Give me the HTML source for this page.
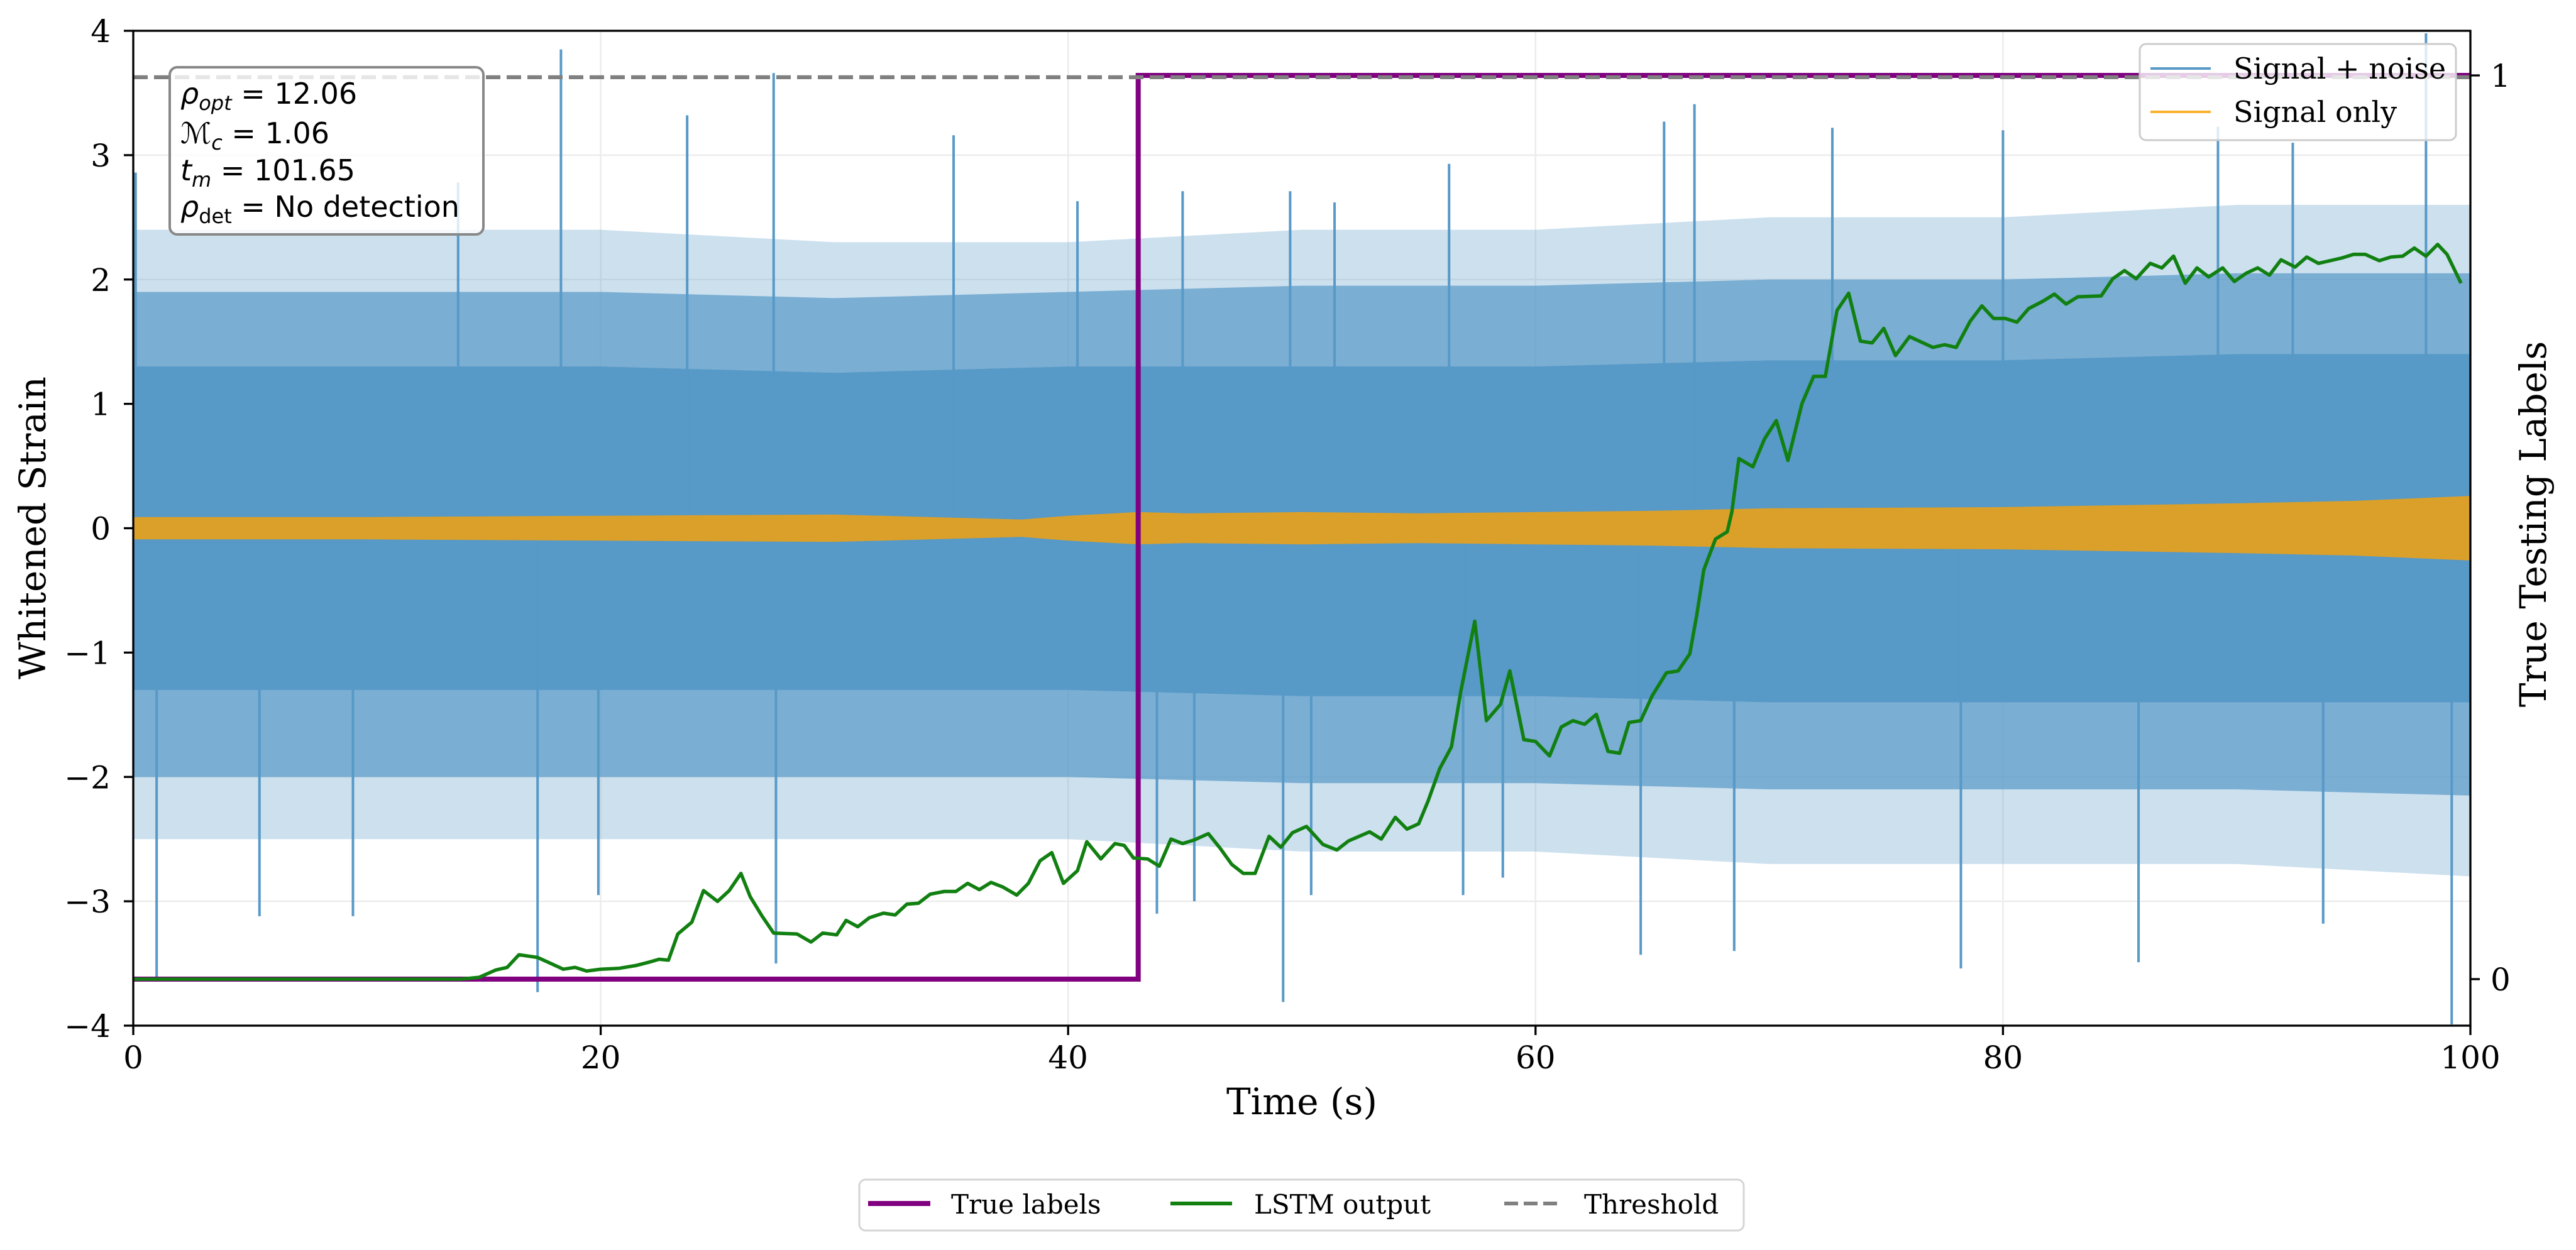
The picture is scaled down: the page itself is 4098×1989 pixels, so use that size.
<!DOCTYPE html>
<html><head><meta charset="utf-8"><style>
html,body{margin:0;padding:0;background:#fff;}
svg{display:block;}
text{font-family:"DejaVu Serif","Liberation Serif",serif;fill:#000;}
.sans{font-family:"DejaVu Sans","Liberation Sans",sans-serif;}
</style></head><body>
<svg id="chart" width="4098" height="1989" viewBox="0 0 4098 1989" xmlns="http://www.w3.org/2000/svg">
<rect x="0" y="0" width="4098" height="1989" fill="#fff"/>
<g id="grid"></g>
<g id="noise"></g>
<g id="signal"></g>
<g id="labels"></g>
<g id="lstm"></g>
<g id="thresh"></g>
<g id="axes"></g>

<g>
<rect x="270" y="107" width="499" height="266" rx="12" fill="#fff" fill-opacity="0.8" stroke="#888" stroke-width="4"/>
<text class="sans" x="287" y="165" font-size="46"><tspan font-style="italic">ρ</tspan><tspan font-style="italic" font-size="32" dy="10">opt</tspan><tspan dy="-10"> = 12.06</tspan></text>
<text class="sans" x="287" y="228" font-size="46"><tspan font-style="italic">ℳ</tspan><tspan font-style="italic" font-size="32" dy="10">c</tspan><tspan dy="-10"> = 1.06</tspan></text>
<text class="sans" x="287" y="287" font-size="46"><tspan font-style="italic">t</tspan><tspan font-style="italic" font-size="32" dy="10">m</tspan><tspan dy="-10"> = 101.65</tspan></text>
<text class="sans" x="287" y="345" font-size="46"><tspan font-style="italic">ρ</tspan><tspan font-size="32" dy="10">det</tspan><tspan dy="-10"> = No detection</tspan></text>
</g>

<g>
<rect x="3404" y="70" width="503" height="153" rx="10" fill="#fff" fill-opacity="0.8" stroke="#ccc" stroke-width="3"/>
<line x1="3421" y1="109" x2="3517" y2="109" stroke="#5799c7" stroke-width="4"/>
<text x="3553" y="125" font-size="46">Signal + noise</text>
<line x1="3421" y1="178" x2="3517" y2="178" stroke="#fbb12f" stroke-width="4"/>
<text x="3553" y="194" font-size="46">Signal only</text>
</g>

<g>
<rect x="1367" y="1877" width="1407" height="81" rx="10" fill="#fff" stroke="#d5d5d5" stroke-width="3"/>
<line x1="1381" y1="1915" x2="1480" y2="1915" stroke="#800080" stroke-width="8"/>
<text x="1513" y="1931" font-size="42">True labels</text>
<line x1="1862" y1="1915" x2="1960" y2="1915" stroke="#118011" stroke-width="6"/>
<text x="1995" y="1931" font-size="42">LSTM output</text>
<line x1="2393" y1="1915" x2="2486" y2="1915" stroke="#808080" stroke-width="6" stroke-dasharray="22 9"/>
<text x="2520" y="1931" font-size="42">Threshold</text>
</g>

<text x="2071" y="1773" font-size="58" text-anchor="middle">Time (s)</text>
<text x="0" y="0" font-size="58" text-anchor="middle" transform="translate(72,840) rotate(-90)">Whitened Strain</text>
<text x="0" y="0" font-size="58" text-anchor="middle" transform="translate(4050,834) rotate(-90)">True Testing Labels</text>
</svg>
<script>
const xTicks = [0, 20, 40, 60, 80, 100];
const yTicks = [-4, -3, -2, -1, 0, 1, 2, 3, 4];
const yTickLabels = ["\u22124", "\u22123", "\u22122", "\u22121", "0", "1", "2", "3", "4"];
const rTicks = [0, 1];
// noise envelope
const noiseT = [0, 10, 20, 30, 40, 50, 60, 70, 80, 90, 100];
const coreUp = [1.3, 1.3, 1.3, 1.25, 1.3, 1.3, 1.3, 1.35, 1.35, 1.4, 1.4];
const coreLo = [-1.3, -1.3, -1.3, -1.3, -1.3, -1.35, -1.35, -1.4, -1.4, -1.4, -1.4];
const midUp = [1.9, 1.9, 1.9, 1.85, 1.9, 1.95, 1.95, 2.0, 2.0, 2.05, 2.05];
const midLo = [-2.0, -2.0, -2.0, -2.0, -2.0, -2.05, -2.05, -2.1, -2.1, -2.1, -2.15];
const fringeUp = [2.4, 2.4, 2.4, 2.3, 2.3, 2.4, 2.4, 2.5, 2.5, 2.6, 2.6];
const fringeLo = [-2.5, -2.5, -2.5, -2.5, -2.5, -2.6, -2.6, -2.7, -2.7, -2.7, -2.8];
const spikeT = [0.1, 1.0, 5.4, 9.4, 13.9, 17.3, 18.3, 19.9, 23.7, 27.4, 27.5, 35.1, 40.4, 43.8, 44.9, 45.4, 49.2, 49.5, 50.4, 51.4, 56.3, 56.9, 58.6, 64.5, 65.5, 66.8, 68.5, 72.7, 78.2, 80.0, 85.8, 89.2, 92.4, 93.7, 98.1, 99.2];
const spikeV = [2.86, -3.61, -3.12, -3.12, 2.78, -3.73, 3.85, -2.95, 3.32, 3.66, -3.5, 3.16, 2.63, -3.1, 2.71, -3.0, -3.81, 2.71, -2.95, 2.62, 2.93, -2.95, -2.81, -3.43, 3.27, 3.41, -3.4, 3.22, -3.54, 3.2, -3.49, 3.23, 3.1, -3.18, 3.98, -3.99];
// signal only envelope
const sigT = [0, 10, 20, 30, 38, 40, 43, 45, 50, 55, 60, 65, 70, 80, 90, 95, 100];
const sigAmp = [0.09, 0.09, 0.1, 0.11, 0.07, 0.1, 0.13, 0.12, 0.13, 0.12, 0.13, 0.14, 0.16, 0.17, 0.2, 0.22, 0.26];
// true labels
const labelT = [0, 43.0, 43.0, 100];
const labelV = [0, 0, 1, 1];
// LSTM output
const lstmT = [0,14.0,14.8,15.5,16.0,16.5,17.3,17.9,18.4,18.9,19.4,20.0,20.8,21.5,22.1,22.5,22.9,23.3,23.9,24.4,25.0,25.5,26.0,26.4,26.9,27.4,28.4,29.0,29.5,30.1,30.5,31.0,31.5,32.1,32.6,33.1,33.6,34.1,34.7,35.2,35.7,36.2,36.7,37.2,37.8,38.3,38.8,39.3,39.8,40.4,40.8,41.4,42.0,42.4,42.8,43.4,43.9,44.4,44.9,45.4,46.0,46.5,47.0,47.5,48.0,48.6,49.1,49.6,50.2,50.9,51.5,52.0,52.9,53.4,54.0,54.5,55.0,55.4,55.9,56.4,56.8,57.4,57.9,58.5,58.9,59.5,60.0,60.6,61.1,61.6,62.1,62.6,63.1,63.6,64.0,64.5,65.0,65.6,66.1,66.6,66.9,67.2,67.7,68.2,68.4,68.7,69.3,69.8,70.3,70.8,71.4,71.9,72.4,72.9,73.4,73.9,74.4,74.9,75.4,76.0,77.0,77.5,78.0,78.6,79.1,79.6,80.1,80.6,81.1,81.7,82.2,82.7,83.2,84.2,84.7,85.2,85.7,86.3,86.8,87.3,87.8,88.3,88.8,89.4,89.9,90.4,90.9,91.4,91.9,92.5,93.0,93.5,94.5,95.0,95.5,96.1,96.6,97.1,97.6,98.1,98.6,99.0,99.6];
const lstmV = [0,0,0.002,0.010,0.013,0.027,0.024,0.017,0.011,0.013,0.009,0.011,0.012,0.015,0.019,0.022,0.021,0.050,0.063,0.098,0.086,0.098,0.117,0.091,0.070,0.051,0.050,0.041,0.051,0.049,0.065,0.058,0.068,0.073,0.071,0.083,0.084,0.094,0.097,0.097,0.106,0.099,0.107,0.102,0.093,0.106,0.131,0.140,0.106,0.120,0.152,0.133,0.150,0.148,0.134,0.133,0.125,0.155,0.150,0.154,0.161,0.145,0.127,0.117,0.117,0.158,0.146,0.162,0.169,0.149,0.143,0.153,0.163,0.155,0.179,0.166,0.172,0.197,0.233,0.257,0.318,0.396,0.286,0.304,0.341,0.265,0.263,0.247,0.279,0.286,0.282,0.293,0.252,0.250,0.284,0.286,0.314,0.339,0.341,0.360,0.403,0.453,0.487,0.495,0.517,0.576,0.567,0.598,0.618,0.574,0.637,0.667,0.667,0.740,0.759,0.706,0.704,0.720,0.690,0.711,0.699,0.702,0.699,0.728,0.745,0.731,0.731,0.727,0.742,0.750,0.758,0.747,0.755,0.756,0.775,0.784,0.775,0.792,0.787,0.800,0.770,0.787,0.777,0.787,0.772,0.781,0.787,0.779,0.796,0.788,0.799,0.792,0.798,0.802,0.802,0.795,0.799,0.800,0.809,0.800,0.813,0.802,0.770];
const thresholdV = [0.998];

const X0 = 212, X1 = 3930, YT = 49, YB = 1632;
const R0 = 1558, R1 = 120;
function sx(t){ return X0 + (t - 0) / 100 * (X1 - X0); }
function sy(v){ return YB - (v + 4) / 8 * (YB - YT); }
function sr(p){ return R0 + p * (R1 - R0); }
const NS = "http://www.w3.org/2000/svg";
function mk(tag, attrs, parent){ const e = document.createElementNS(NS, tag); for (const k in attrs) e.setAttribute(k, attrs[k]); parent.appendChild(e); return e; }

const grid = document.getElementById('grid');
xTicks.forEach(t => { const l = mk('line', {x1: sx(t), x2: sx(t), y1: YT, y2: YB, stroke: '#ececec', 'stroke-width': 2.5}, grid);
  
   });
yTicks.forEach(v => { const l = mk('line', {x1: X0, x2: X1, y1: sy(v), y2: sy(v), stroke: '#ececec', 'stroke-width': 2.5}, grid);
  
   });

function band(up, lo, ts, fill, op, name, parent){
  let d = '';
  ts.forEach((t, i) => { d += (i ? 'L' : 'M') + sx(t).toFixed(1) + ' ' + sy(up[i]).toFixed(1); });
  for (let i = ts.length - 1; i >= 0; i--) d += 'L' + sx(ts[i]).toFixed(1) + ' ' + sy(lo[i]).toFixed(1);
  const p = mk('path', {d: d + 'Z', fill: fill, 'fill-opacity': op}, parent);
  
  
}
const noise = document.getElementById('noise');
band(fringeUp, fringeLo, noiseT, '#5799c7', 0.3, 'noise-fringe-band', noise);
band(midUp, midLo, noiseT, '#5799c7', 0.7, 'noise-mid-band', noise);
band(coreUp, coreLo, noiseT, '#5799c7', 1, 'noise-core-band', noise);
spikeT.forEach((t, i) => { const l = mk('line', {x1: sx(t), x2: sx(t), y1: sy(0), y2: sy(spikeV[i]), stroke: '#5799c7', 'stroke-width': 4}, noise);
  
   });

const signal = document.getElementById('signal');
band(sigAmp, sigAmp.map(a => -a), sigT, '#daa02a', 1, 'signal-only-band', signal);

function poly(ts, vs, f){ return ts.map((t, i) => sx(t).toFixed(1) + ',' + f(vs[i]).toFixed(1)).join(' '); }
const lab = mk('polyline', {points: poly(labelT, labelV, sr), fill: 'none', stroke: '#800080', 'stroke-width': 8}, document.getElementById('labels'));


const ls = mk('polyline', {points: poly(lstmT, lstmV, sr), fill: 'none', stroke: '#118011', 'stroke-width': 5.5, 'stroke-linejoin': 'round'}, document.getElementById('lstm'));


const th = mk('line', {x1: X0, x2: X1, y1: sr(thresholdV[0]), y2: sr(thresholdV[0]), stroke: '#808080', 'stroke-width': 6.25, 'stroke-dasharray': '23 10'}, document.getElementById('thresh'));



const axes = document.getElementById('axes');
const fr = mk('rect', {x: X0, y: YT, width: X1 - X0, height: YB - YT, fill: 'none', stroke: '#000', 'stroke-width': 3.3}, axes);


xTicks.forEach(t => {
  const l = mk('line', {x1: sx(t), x2: sx(t), y1: YB, y2: YB + 15, stroke: '#000', 'stroke-width': 3.3}, axes);
  
  
  const tx = mk('text', {x: sx(t), y: 1700, 'font-size': 50, 'text-anchor': 'middle'}, axes);
  tx.textContent = String(t);
  
  
});
yTicks.forEach((v, i) => {
  const l = mk('line', {x1: X0 - 15, x2: X0, y1: sy(v), y2: sy(v), stroke: '#000', 'stroke-width': 3.3}, axes);
  
  
  const tx = mk('text', {x: 176, y: sy(v) + 18, 'font-size': 50, 'text-anchor': 'end'}, axes);
  tx.textContent = yTickLabels[i];
  
  
});
rTicks.forEach(p => {
  const l = mk('line', {x1: X1, x2: X1 + 15, y1: sr(p), y2: sr(p), stroke: '#000', 'stroke-width': 3.3}, axes);
  
  
  const tx = mk('text', {x: 3962, y: sr(p) + 18, 'font-size': 50}, axes);
  tx.textContent = String(p);
  
  
});
</script>
</body></html>
